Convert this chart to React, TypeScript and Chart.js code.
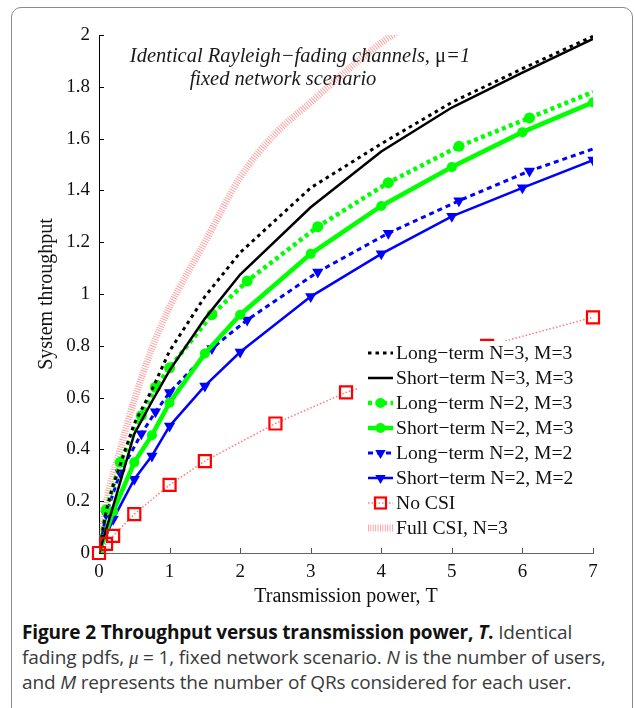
import React, { useEffect, useRef } from "react";
import { Chart, registerables } from "chart.js";
Chart.register(...registerables);

// ---- data ----
const xTicks = [0, 1, 2, 3, 4, 5, 6, 7];
const yTicks = [0, 0.2, 0.4, 0.6, 0.8, 1, 1.2, 1.4, 1.6, 1.8, 2];

const blackLongX = [0, 0.1, 0.2, 0.5, 0.75, 1, 1.5, 2, 3, 4, 5, 6, 7];
const longN3M3 = [0, 0.16, 0.26, 0.5, 0.63, 0.78, 0.99, 1.16, 1.41, 1.58, 1.74, 1.87, 1.995];

const shortX = [0, 0.2, 0.5, 0.75, 1, 1.5, 2, 3, 4, 5, 6, 7];
const shortN3M3 = [0, 0.18, 0.46, 0.585, 0.705, 0.905, 1.075, 1.335, 1.55, 1.72, 1.855, 1.985];
const shortN2M3 = [0, 0.16, 0.35, 0.455, 0.58, 0.77, 0.92, 1.155, 1.34, 1.49, 1.625, 1.74];
const shortN2M2 = [0, 0.13, 0.285, 0.375, 0.49, 0.645, 0.776, 0.99, 1.155, 1.3, 1.41, 1.517];

const longX = [0, 0.1, 0.3, 0.6, 0.8, 1.0, 1.6, 2.1, 3.1, 4.1, 5.1, 6.1, 7];
const longN2M3 = [0, 0.166, 0.35, 0.53, 0.64, 0.715, 0.92, 1.05, 1.26, 1.43, 1.57, 1.68, 1.78];
const longN2M2 = [0, 0.15, 0.31, 0.46, 0.545, 0.62, 0.79, 0.9, 1.085, 1.235, 1.36, 1.475, 1.56];

const noCsiX = [0, 0.1, 0.2, 0.5, 1, 1.5, 2.5, 3.5, 5.5, 7];
const noCsi = [0, 0.035, 0.066, 0.15, 0.263, 0.355, 0.5, 0.62, 0.8, 0.91];

const fullCsiX = [0, 0.1, 0.3, 0.5, 0.75, 1, 1.5, 2, 2.5, 3, 3.5, 4, 4.5];
const fullCsi = [0, 0.19, 0.4, 0.59, 0.79, 0.95, 1.2, 1.45, 1.62, 1.74, 1.86, 1.97, 2.06];

const legendLabels = [
  "Long\u2212term N=3, M=3",
  "Short\u2212term N=3, M=3",
  "Long\u2212term N=2, M=3",
  "Short\u2212term N=2, M=3",
  "Long\u2212term N=2, M=2",
  "Short\u2212term N=2, M=2",
  "No CSI",
  "Full CSI, N=3",
];

const GREEN = "#00ff00";
const BLUE = "#0000ff";
const RED = "#ff0000";
const PINK = "rgba(255,90,90,0.6)";
const SERIF = "'Liberation Serif', 'DejaVu Serif', serif";

const pts = (xs: number[], ys: number[]) => xs.map((x, i) => ({ x, y: ys[i] }));
const lastNone = (n: number, r: number) => Array.from({ length: n }, (_, i) => (i === n - 1 ? 0 : r));

type LegendStyle = {
  color: string;
  width: number;
  dash: number[];
  marker?: "circle" | "tri" | "square";
  mr?: number;
};
const legendStyles: LegendStyle[] = [
  { color: "#000", width: 3, dash: [3.5, 4] },
  { color: "#000", width: 2.5, dash: [] },
  { color: GREEN, width: 4.5, dash: [4, 3.5], marker: "circle", mr: 5 },
  { color: GREEN, width: 4.5, dash: [], marker: "circle", mr: 5 },
  { color: BLUE, width: 3, dash: [5, 4], marker: "tri", mr: 6 },
  { color: BLUE, width: 2.5, dash: [], marker: "tri", mr: 6 },
  { color: "rgba(255,90,90,0.8)", width: 1.5, dash: [1.5, 2], marker: "square", mr: 6 },
  { color: PINK, width: 7, dash: [0.9, 1.5] },
];

const overlay = {
  id: "overlay",
  afterDraw(chart: any) {
    const ctx = chart.ctx as CanvasRenderingContext2D;
    const xs = chart.scales.x;
    const ys = chart.scales.y;
    const area = chart.chartArea;
    ctx.save();
    // inward ticks
    ctx.lineWidth = 1;
    ctx.strokeStyle = "#555";
    xTicks.forEach((v) => {
      const p = Math.round(xs.getPixelForValue(v)) + 0.5;
      ctx.beginPath();
      ctx.moveTo(p, area.bottom);
      ctx.lineTo(p, area.bottom - 5);
      ctx.stroke();
    });
    ctx.strokeStyle = "#000";
    yTicks.forEach((v) => {
      const p = Math.round(ys.getPixelForValue(v)) + 0.5;
      ctx.beginPath();
      ctx.moveTo(area.left, p);
      ctx.lineTo(area.left + 5, p);
      ctx.stroke();
    });

    // axis titles
    ctx.fillStyle = "#111";
    ctx.font = `20px ${SERIF}`;
    ctx.textAlign = "center";
    ctx.textBaseline = "middle";
    ctx.fillText("Transmission power, T", (area.left + area.right) / 2, 597);
    ctx.save();
    ctx.translate(47, (area.top + area.bottom) / 2);
    ctx.rotate(-Math.PI / 2);
    ctx.fillText("System throughput", 0, 0);
    ctx.restore();

    // annotation
    ctx.textAlign = "left";
    ctx.fillStyle = "#1a1a1a";
    const it = `italic 20.5px ${SERIF}`;
    const up = `20.5px ${SERIF}`;
    const p1 = "Identical Rayleigh\u2212fading channels, ";
    const p2 = "\u03bc";
    const p3 = "=1";
    ctx.font = it;
    const w1 = ctx.measureText(p1).width;
    const w3 = ctx.measureText(p3).width;
    ctx.font = up;
    const w2 = ctx.measureText(p2).width;
    const total = w1 + w2 + w3;
    const sx = 300 - total / 2;
    ctx.font = it;
    ctx.fillText(p1, sx, 57);
    ctx.font = up;
    ctx.fillText(p2, sx + w1, 57);
    ctx.font = it;
    ctx.fillText(p3, sx + w1 + w2, 57);
    ctx.textAlign = "center";
    ctx.fillText("fixed network scenario", 283, 80);

    // legend box (white, covers data)
    ctx.fillStyle = "#fff";
    ctx.fillRect(357, 341, area.right - 357 - 2, 200);
    const rowY0 = 353;
    const rowH = 25;
    legendStyles.forEach((s, i) => {
      const y = rowY0 + i * rowH;
      ctx.save();
      ctx.strokeStyle = s.color;
      ctx.lineWidth = s.width;
      ctx.setLineDash(s.dash);
      ctx.lineCap = "butt";
      ctx.beginPath();
      ctx.moveTo(368, y);
      ctx.lineTo(393, y);
      ctx.stroke();
      ctx.setLineDash([]);
      const cx = 380.5;
      if (s.marker === "circle") {
        ctx.fillStyle = s.color;
        ctx.beginPath();
        ctx.arc(cx, y, s.mr!, 0, Math.PI * 2);
        ctx.fill();
      } else if (s.marker === "tri") {
        const r = s.mr!;
        ctx.fillStyle = s.color;
        ctx.beginPath();
        ctx.moveTo(cx - r * 0.87, y - r * 0.5);
        ctx.lineTo(cx + r * 0.87, y - r * 0.5);
        ctx.lineTo(cx, y + r);
        ctx.closePath();
        ctx.fill();
      } else if (s.marker === "square") {
        ctx.strokeStyle = RED;
        ctx.lineWidth = 2.2;
        ctx.strokeRect(cx - 5.5, y - 5.5, 11, 11);
      }
      ctx.restore();
      ctx.fillStyle = "#111";
      ctx.font = `19.6px ${SERIF}`;
      ctx.textAlign = "left";
      ctx.textBaseline = "middle";
      ctx.fillText(legendLabels[i], 396, y + 1);
    });
    ctx.restore();
  },
};

export default function App() {
  const ref = useRef<HTMLCanvasElement | null>(null);
  useEffect(() => {
    if (!ref.current) return;
    const H = 615;
    const chart = new Chart(ref.current, {
      type: "line",
      data: {
        datasets: [
          {
            label: legendLabels[0],
            data: pts(blackLongX, longN3M3),
            borderColor: "#000",
            borderWidth: 3,
            borderDash: [3.5, 4],
            pointRadius: 0,
            order: 1,
          },
          {
            label: legendLabels[1],
            data: pts(shortX, shortN3M3),
            borderColor: "#000",
            borderWidth: 2.5,
            pointRadius: 0,
            order: 2,
          },
          {
            label: legendLabels[2],
            data: pts(longX, longN2M3),
            borderColor: GREEN,
            backgroundColor: GREEN,
            borderWidth: 4.5,
            borderDash: [4, 3.5],
            pointStyle: "circle",
            pointRadius: lastNone(longX.length, 5.5),
            pointBorderWidth: 0,
            order: 3,
          },
          {
            label: legendLabels[3],
            data: pts(shortX, shortN2M3),
            borderColor: GREEN,
            backgroundColor: GREEN,
            borderWidth: 4.5,
            pointStyle: "circle",
            pointRadius: 5,
            pointBorderWidth: 0,
            order: 4,
          },
          {
            label: legendLabels[4],
            data: pts(longX, longN2M2),
            borderColor: BLUE,
            backgroundColor: BLUE,
            borderWidth: 3,
            borderDash: [5, 4],
            pointStyle: "triangle",
            rotation: 180,
            pointRadius: lastNone(longX.length, 6.5),
            pointBorderWidth: 0,
            order: 5,
          },
          {
            label: legendLabels[5],
            data: pts(shortX, shortN2M2),
            borderColor: BLUE,
            backgroundColor: BLUE,
            borderWidth: 2.5,
            pointStyle: "triangle",
            rotation: 180,
            pointRadius: 6.5,
            pointBorderWidth: 0,
            order: 6,
          },
          {
            label: legendLabels[6],
            data: pts(noCsiX, noCsi),
            borderColor: "rgba(255,90,90,0.8)",
            borderWidth: 1.5,
            borderDash: [1.5, 2],
            pointStyle: "rect",
            pointRadius: 8.5,
            pointBorderColor: RED,
            pointBackgroundColor: "rgba(0,0,0,0)",
            pointBorderWidth: 2.2,
            clip: false,
            order: 0,
          },
          {
            label: legendLabels[7],
            data: pts(fullCsiX, fullCsi),
            borderColor: PINK,
            borderWidth: 7,
            borderDash: [0.9, 1.5],
            borderCapStyle: "butt",
            pointRadius: 0,
            tension: 0.4,
            cubicInterpolationMode: "monotone",
            clip: 0,
            order: 9,
          },
        ] as any,
      },
      options: {
        animation: false,
        responsive: false,
        maintainAspectRatio: false,
        layout: { padding: { left: 0, top: 35, right: 42, bottom: 0 } },
        plugins: { legend: { display: false }, tooltip: { enabled: false } },
        elements: { line: { tension: 0 } },
        scales: {
          x: {
            type: "linear",
            min: 0,
            max: 7,
            afterFit: (s: any) => {
              s.height = H - 553;
            },
            afterBuildTicks: (s: any) => {
              s.ticks = xTicks.map((v) => ({ value: v }));
            },
            grid: { display: false, drawTicks: false },
            border: { display: true, color: "#666", width: 1 },
            ticks: {
              padding: 8,
              color: "#111",
              font: { family: SERIF, size: 19 },
              maxRotation: 0,
              callback: (v: any) => String(v),
            },
          },
          y: {
            type: "linear",
            min: 0,
            max: 2,
            afterFit: (s: any) => {
              s.width = 99;
            },
            afterBuildTicks: (s: any) => {
              s.ticks = yTicks.map((v) => ({ value: v }));
            },
            grid: { display: false, drawTicks: false },
            border: { display: true, color: "#000", width: 1 },
            ticks: {
              padding: 9,
              color: "#111",
              font: { family: SERIF, size: 19 },
              callback: (v: any) => String(Number(Number(v).toFixed(1))),
            },
          },
        },
      } as any,
      plugins: [overlay],
    });
    return () => chart.destroy();
  }, []);

  return (
    <div style={{ position: "absolute", left: 0, top: 0, width: 635, height: 708, overflow: "hidden", background: "#fff" }}>
      <div
        style={{
          position: "absolute",
          left: 11,
          top: 7,
          width: 622,
          height: 760,
          border: "1px solid #8a8a8a",
          borderRadius: 10,
          boxSizing: "border-box",
        }}
      />
      <canvas ref={ref} width={635} height={615} style={{ position: "absolute", left: 0, top: 0, width: 635, height: 615 }} />
      <div
        style={{
          position: "absolute",
          left: 22,
          top: 620,
          fontFamily: "'Open Sans', 'Noto Sans', sans-serif",
          fontSize: 19,
          lineHeight: "25px",
          color: "#3a3a3a",
          whiteSpace: "nowrap",
          letterSpacing: "-0.15px",
        }}
      >
        <span style={{ fontWeight: 700, color: "#111" }}>
          Figure 2 Throughput versus transmission power, <i>T</i>.
        </span>{" "}
        Identical
        <br />
        fading pdfs, <i style={{ fontFamily: SERIF }}>μ</i> = 1, fixed network scenario. <i>N</i> is the number of users,
        <br />
        and <i>M</i> represents the number of QRs considered for each user.
      </div>
    </div>
  );
}
